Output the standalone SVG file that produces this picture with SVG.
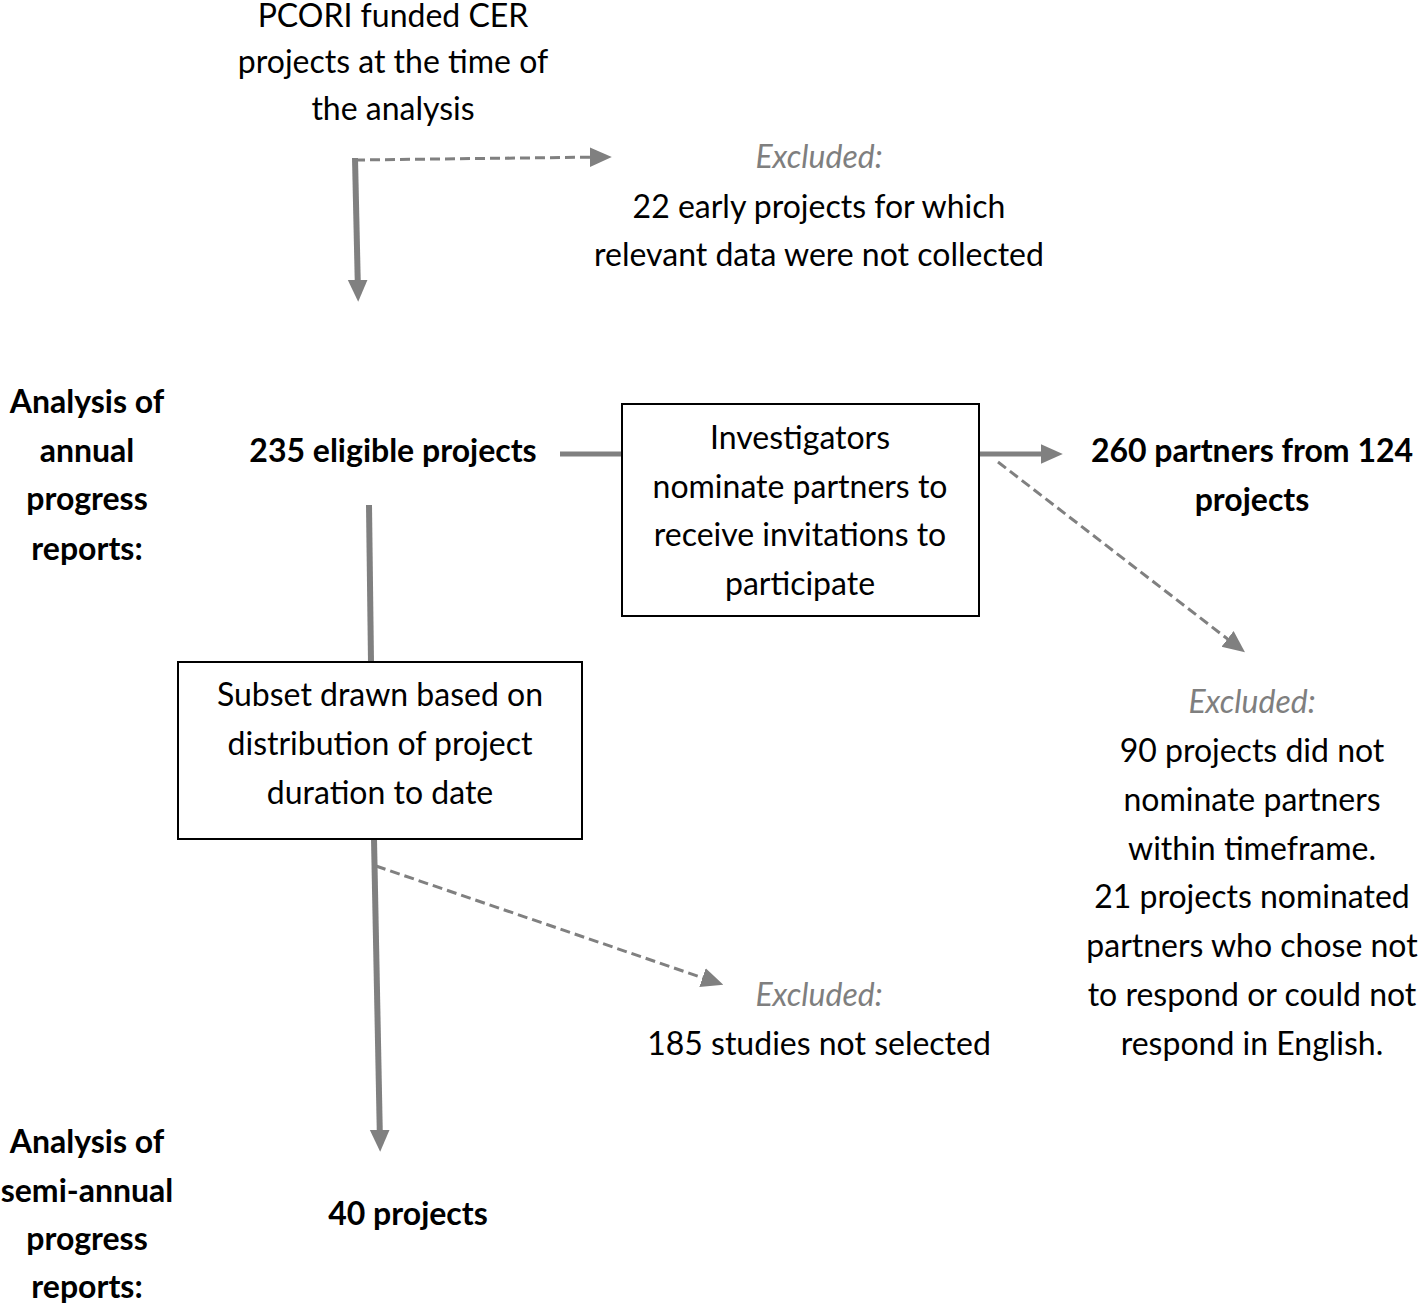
<svg xmlns="http://www.w3.org/2000/svg" width="1418" height="1306" viewBox="0 0 1418 1306">
<style>
text{font-family:Lato,"Open Sans","Liberation Sans",sans-serif;font-size:32px;fill:#000;text-anchor:middle}
.b{font-weight:bold}
.ex{font-style:italic;fill:#7f7f7f}
.box{fill:#fff;stroke:#000;stroke-width:2}
.solid{stroke:#808080;stroke-width:6;fill:none}
.thin{stroke:#808080;stroke-width:5;fill:none}
.dash{stroke:#808080;stroke-width:3;stroke-dasharray:10 5;fill:none}
</style>
<defs>
<marker id="ah" viewBox="0 0 10 10" refX="6" refY="5" markerWidth="22" markerHeight="22" markerUnits="userSpaceOnUse" orient="auto"><path d="M0,0.5 L10,5 L0,9.5 z" fill="#808080"/></marker>
</defs>
<g id="connectors">
<line class="solid" x1="355" y1="158" x2="358" y2="293" marker-end="url(#ah)"/>
<line class="dash" x1="355" y1="160" x2="603" y2="157" marker-end="url(#ah)"/>
<line class="thin" x1="560" y1="454" x2="622" y2="454"/>
<line class="thin" x1="979" y1="454" x2="1054" y2="454" marker-end="url(#ah)"/>
<line class="dash" x1="998" y1="462" x2="1238" y2="647" marker-end="url(#ah)"/>
<line class="solid" x1="369" y1="505" x2="371" y2="662"/>
<line class="solid" x1="374" y1="839" x2="380" y2="1143" marker-end="url(#ah)"/>
<line class="dash" x1="376" y1="866" x2="715" y2="982" marker-end="url(#ah)"/>
</g>
<g id="n-top">
<text x="393" y="27">PCORI funded CER</text>
<text x="393" y="73">projects at the time of</text>
<text x="393" y="120">the analysis</text>
</g>
<g id="n-excl1">
<text class="ex" x="819" y="168">Excluded:</text>
<text x="819" y="218">22 early projects for which</text>
<text x="819" y="266">relevant data were not collected</text>
</g>
<g id="n-label1">
<text class="b" x="87" y="413">Analysis of</text>
<text class="b" x="87" y="462">annual</text>
<text class="b" x="87" y="510">progress</text>
<text class="b" x="87" y="560">reports:</text>
</g>
<g id="n-eligible">
<text class="b" x="393" y="462">235 eligible projects</text>
</g>
<g id="n-invest">
<rect class="box" x="622" y="404" width="357" height="212"/>
<text x="800" y="449">Investigators</text>
<text x="800" y="498">nominate partners to</text>
<text x="800" y="546">receive invitations to</text>
<text x="800" y="595">participate</text>
</g>
<g id="n-partners">
<text class="b" x="1252" y="462">260 partners from 124</text>
<text class="b" x="1252" y="511">projects</text>
</g>
<g id="n-excl2">
<text class="ex" x="1252" y="713">Excluded:</text>
<text x="1252" y="762">90 projects did not</text>
<text x="1252" y="811">nominate partners</text>
<text x="1252" y="860">within timeframe.</text>
<text x="1252" y="908">21 projects nominated</text>
<text x="1252" y="957">partners who chose not</text>
<text x="1252" y="1006">to respond or could not</text>
<text x="1252" y="1055">respond in English.</text>
</g>
<g id="n-subset">
<rect class="box" x="178" y="662" width="404" height="177"/>
<text x="380" y="706">Subset drawn based on</text>
<text x="380" y="755">distribution of project</text>
<text x="380" y="804">duration to date</text>
</g>
<g id="n-excl3">
<text class="ex" x="819" y="1006">Excluded:</text>
<text x="819" y="1055">185 studies not selected</text>
</g>
<g id="n-label2">
<text class="b" x="87" y="1153">Analysis of</text>
<text class="b" x="87" y="1202">semi-annual</text>
<text class="b" x="87" y="1250">progress</text>
<text class="b" x="87" y="1298">reports:</text>
</g>
<g id="n-forty">
<text class="b" x="408" y="1225">40 projects</text>
</g>
</svg>
